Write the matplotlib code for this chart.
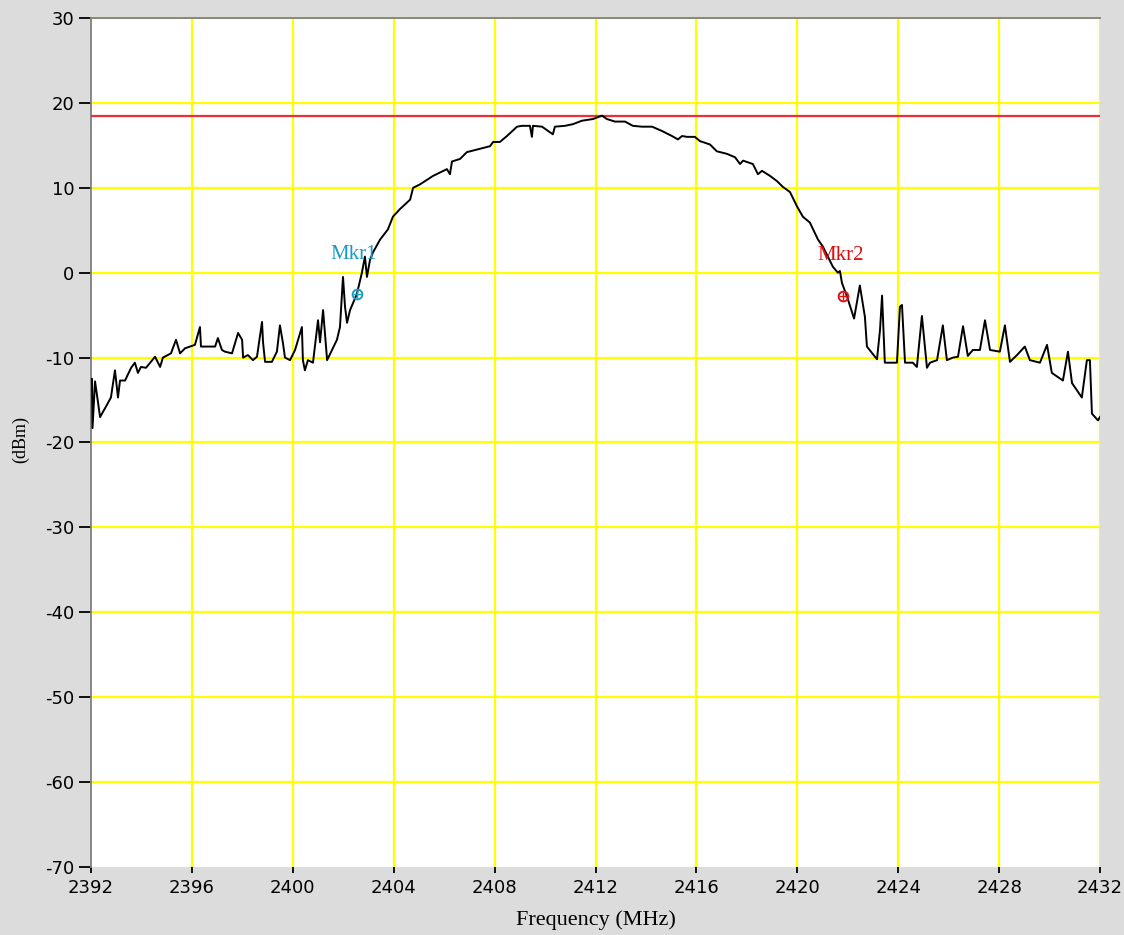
import matplotlib
matplotlib.use("Agg")
import matplotlib.pyplot as plt

plt.rcParams["axes.unicode_minus"] = False

# Trace data
freq_mhz = [2392.00, 2392.04, 2392.06, 2392.16, 2392.36, 2392.55, 2392.79, 2392.95, 2393.07, 2393.15,
            2393.35, 2393.59, 2393.74, 2393.86, 2393.98, 2394.18, 2394.54, 2394.74, 2394.85, 2395.17,
            2395.37, 2395.53, 2395.73, 2396.12, 2396.32, 2396.36, 2396.92, 2397.03, 2397.19, 2397.31,
            2397.59, 2397.83, 2397.99, 2398.03, 2398.22, 2398.42, 2398.58, 2398.78, 2398.82, 2398.90,
            2399.17, 2399.37, 2399.49, 2399.61, 2399.69, 2399.89, 2400.09, 2400.21, 2400.36, 2400.40,
            2400.48, 2400.60, 2400.80, 2401.00, 2401.08, 2401.20, 2401.36, 2401.75, 2401.87, 2401.99,
            2402.07, 2402.15, 2402.27, 2402.54, 2402.74, 2402.86, 2402.94, 2403.06, 2403.18, 2403.46,
            2403.77, 2403.97, 2404.25, 2404.65, 2404.77, 2405.04, 2405.56, 2406.11, 2406.23, 2406.31,
            2406.63, 2406.90, 2407.42, 2407.82, 2407.94, 2408.21, 2408.49, 2408.89, 2409.08, 2409.40,
            2409.48, 2409.52, 2409.88, 2410.12, 2410.31, 2410.39, 2410.79, 2411.11, 2411.46, 2411.90,
            2412.26, 2412.45, 2412.77, 2413.17, 2413.48, 2413.84, 2414.24, 2414.63, 2415.03, 2415.27,
            2415.43, 2415.63, 2415.94, 2416.14, 2416.54, 2416.81, 2417.21, 2417.53, 2417.73, 2417.85,
            2418.24, 2418.44, 2418.60, 2418.92, 2419.19, 2419.43, 2419.71, 2419.99, 2420.22, 2420.50,
            2420.82, 2421.01, 2421.41, 2421.61, 2421.69, 2421.77, 2421.97, 2422.25, 2422.48, 2422.68,
            2422.76, 2423.16, 2423.28, 2423.36, 2423.47, 2423.95, 2424.07, 2424.15, 2424.27, 2424.58,
            2424.74, 2424.94, 2425.14, 2425.26, 2425.54, 2425.77, 2425.93, 2426.17, 2426.37, 2426.57,
            2426.76, 2426.96, 2427.24, 2427.44, 2427.64, 2428.03, 2428.23, 2428.43, 2428.71, 2429.02,
            2429.22, 2429.62, 2429.90, 2430.09, 2430.53, 2430.73, 2430.89, 2431.28, 2431.48, 2431.60,
            2431.68, 2431.92, 2432.00]
level_dbm = [-12.5, -12.5, -18.3, -12.8, -17.0, -16.0, -14.7, -11.5, -14.7, -12.7,
             -12.7, -11.2, -10.6, -11.8, -11.1, -11.2, -9.9, -11.1, -10.0, -9.5,
             -7.9, -9.5, -8.9, -8.5, -6.4, -8.7, -8.7, -7.7, -9.1, -9.3,
             -9.5, -7.1, -7.9, -10.0, -9.7, -10.3, -9.9, -5.8, -8.2, -10.5,
             -10.5, -9.3, -6.2, -8.3, -10.0, -10.3, -9.1, -7.9, -6.4, -10.3,
             -11.5, -10.3, -10.6, -5.6, -8.2, -4.4, -10.3, -7.9, -6.4, -0.5,
             -4.0, -5.9, -4.4, -2.5, 0.0, 1.9, -0.5, 1.5, 2.4, 3.9,
             5.1, 6.6, 7.5, 8.6, 10.0, 10.4, 11.4, 12.2, 11.6, 13.1,
             13.4, 14.2, 14.6, 14.9, 15.4, 15.4, 16.1, 17.2, 17.3, 17.3,
             16.0, 17.3, 17.2, 16.7, 16.3, 17.2, 17.3, 17.5, 17.9, 18.1,
             18.5, 18.1, 17.8, 17.8, 17.3, 17.2, 17.2, 16.7, 16.1, 15.7,
             16.1, 16.0, 16.0, 15.5, 15.1, 14.3, 14.0, 13.6, 12.8, 13.2,
             12.8, 11.6, 12.0, 11.4, 10.8, 10.1, 9.5, 7.8, 6.6, 5.9,
             3.9, 3.1, 0.7, 0.0, 0.2, -1.2, -2.8, -5.4, -1.5, -5.2,
             -8.7, -10.2, -6.7, -2.7, -10.6, -10.6, -4.0, -3.8, -10.6, -10.6,
             -11.1, -5.1, -11.2, -10.6, -10.3, -6.2, -10.3, -10.0, -9.9, -6.3,
             -9.8, -9.1, -9.1, -5.6, -9.1, -9.3, -6.2, -10.5, -9.7, -8.7,
             -10.3, -10.6, -8.5, -11.8, -12.7, -9.3, -13.0, -14.7, -10.3, -10.3,
             -16.6, -17.4, -17.0]

limit_dbm = 18.4
marker_names = ["Mkr1", "Mkr2"]
marker_freq = [2402.54, 2421.82]
marker_dbm = [-2.5, -2.7]
marker_label_freq = [2402.4, 2421.7]
marker_label_dbm = [2.2, 2.0]
marker_colors = ["#1a9bc4", "#e01010"]

x_ticks = list(range(2392, 2433, 4))
y_ticks = list(range(-70, 31, 10))

bg = "#dcdcdc"
fig = plt.figure(figsize=(11.24, 9.35), dpi=100, facecolor=bg)
ax = fig.add_axes([91 / 1124, 68 / 935, 1009 / 1124, 849 / 935])
ax.set_facecolor("white")

ax.set_xlim(2392, 2432)
ax.set_ylim(-70, 30)
ax.set_xticks(x_ticks)
ax.set_yticks(y_ticks)

# grid: vertical lines at all x ticks, horizontal lines above the bottom edge
for xv in x_ticks[1:]:
    ax.axvline(xv, color="#ffff00", linewidth=1.6, zorder=1)
for yv in y_ticks[1:]:
    ax.axhline(yv, color="#ffff00", linewidth=1.6, zorder=1)

for s in ax.spines.values():
    s.set_color("#808080")
    s.set_linewidth(1.3)
ax.spines["bottom"].set_visible(False)
ax.spines["right"].set_visible(False)

ax.tick_params(axis="both", direction="out", color="black", labelsize=13,
               labelcolor="black", width=1.3)
ax.tick_params(axis="y", length=9, pad=3)
ax.tick_params(axis="x", length=4.5, pad=4)

ax.axhline(limit_dbm, color="#e8303a", linewidth=1.6, zorder=3)
ax.plot(freq_mhz, level_dbm, color="black", linewidth=1.4, zorder=4)

for name, f, d, lf, ld, c in zip(marker_names, marker_freq, marker_dbm,
                                 marker_label_freq, marker_label_dbm, marker_colors):
    ax.plot([f], [d], marker="o", markersize=7, markerfacecolor="none",
            markeredgecolor=c, markeredgewidth=1.4, zorder=5)
    ax.plot([f], [d], marker="+", markersize=6, color=c, markeredgewidth=1.0, zorder=5)
    ax.text(lf, ld, name, color=c, fontsize=15, family="Liberation Serif",
            ha="center", va="center", zorder=6)

ax.set_xlabel("Frequency (MHz)", family="Liberation Serif", fontsize=16)
ax.set_ylabel("(dBm)", family="Liberation Serif", fontsize=13)
ax.xaxis.set_label_coords(0.5, -0.051)
ax.yaxis.set_label_coords(-0.061, 0.503)

fig.savefig("out.png", dpi=100, facecolor=bg)
